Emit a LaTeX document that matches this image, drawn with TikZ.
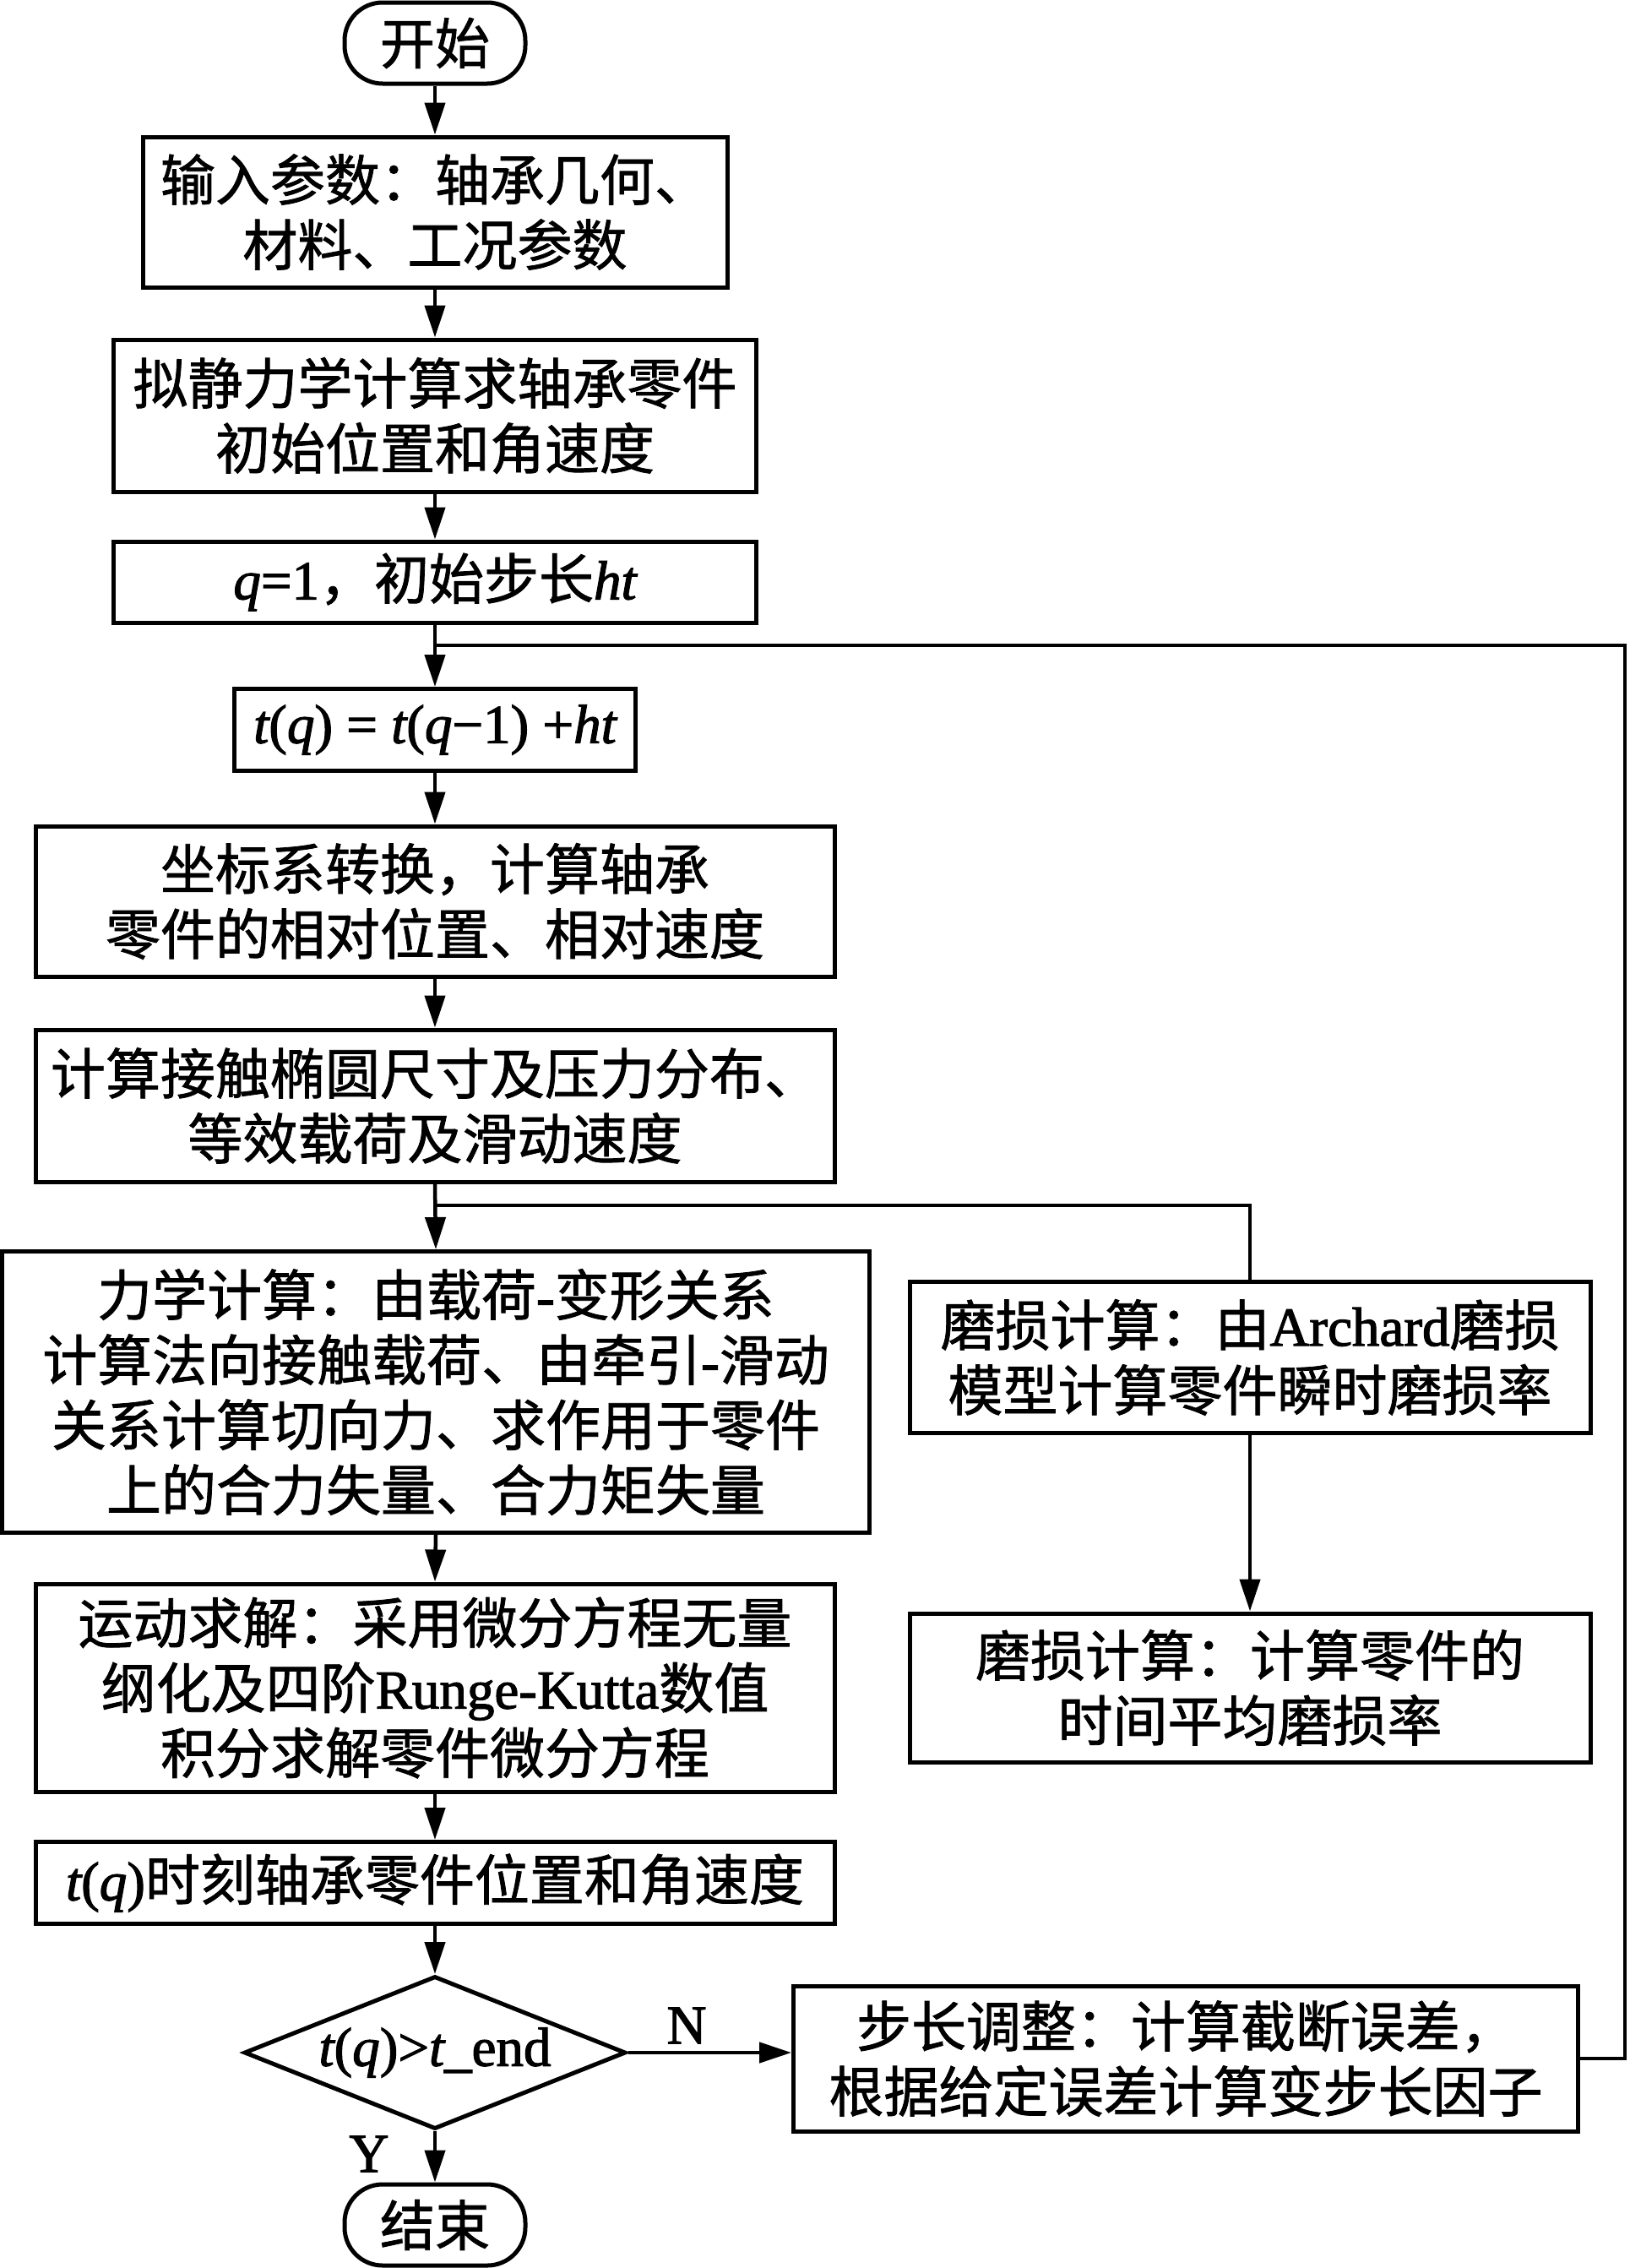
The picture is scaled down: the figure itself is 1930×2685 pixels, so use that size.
\documentclass[tikz,border=0pt]{standalone}
\usepackage{fontspec}
\newfontfamily\cjk[FakeBold=1.2]{Noto Sans CJK SC}
\newfontfamily\lat[FakeBold=1.8]{Liberation Serif}
\usetikzlibrary{arrows.meta,shapes.geometric}
\newcommand\li[1]{{\lat\itshape #1}}
\newcommand\lu[1]{{\lat #1}}
\begin{document}
\begin{tikzpicture}[x=1pt,y=-1pt,
  base/.style={draw, line width=5pt, inner sep=0pt, align=center, font=\cjk\fontsize{65}{77}\selectfont},
  box/.style={base, rectangle},
  term/.style={base, rectangle, rounded corners=45pt},
  dec/.style={base, diamond, aspect=2.5},
  arr/.style={line width=4.5pt, -{Triangle[length=38pt,width=24pt]}},
  ln/.style={line width=4.5pt},
  lbl/.style={font=\lat\fontsize{65}{77}\selectfont, inner sep=0pt}]
\useasboundingbox[fill=white] (0,0) rectangle (1930,2685);
\node[term, minimum width=214pt, minimum height=96pt] (start) at (515,51) {开始};
\node[box, minimum width=692pt, minimum height=178pt] (input) at (515,251) {输入参数：轴承几何、\\材料、工况参数};
\node[box, minimum width=761pt, minimum height=180pt] (quasi) at (515,492) {拟静力学计算求轴承零件\\初始位置和角速度};
\node[box, minimum width=761pt, minimum height=96pt] (q1) at (515,689) {\li{q}\lu{=1}，初始步长\li{ht}};
\node[box, minimum width=475pt, minimum height=97pt] (tq) at (515,864) {\li{t}\lu{(}\li{q}\lu{) = }\li{t}\lu{(}\li{q}\lu{−1) +}\li{ht}};
\node[box, minimum width=946pt, minimum height=178pt] (coord) at (515,1067) {坐标系转换，计算轴承\\零件的相对位置、相对速度};
\node[box, minimum width=946pt, minimum height=180pt] (contact) at (515,1309) {计算接触椭圆尺寸及压力分布、\\等效载荷及滑动速度};
\node[box, minimum width=1027pt, minimum height=333pt] (force) at (516,1648) {力学计算：由载荷\lu{-}变形关系\\计算法向接触载荷、由牵引\lu{-}滑动\\关系计算切向力、求作用于零件\\上的合力失量、合力矩失量};
\node[box, minimum width=946pt, minimum height=246pt] (motion) at (515,1998) {运动求解：采用微分方程无量\\纲化及四阶\lu{Runge-Kutta}数值\\积分求解零件微分方程};
\node[box, minimum width=946pt, minimum height=97pt] (tqm) at (515,2229) {\li{t}\lu{(}\li{q}\lu{)}时刻轴承零件位置和角速度};
\node[dec, minimum width=452pt, minimum height=181pt] (dec) at (515,2430) {\li{t}\lu{(}\li{q}\lu{)>}\li{t}\lu{\_end}};
\node[term, minimum width=214pt, minimum height=96pt] (end) at (515,2634) {结束};
\node[box, minimum width=806pt, minimum height=179pt] (wear1) at (1480,1607) {磨损计算：由\lu{Archard}磨损\\模型计算零件瞬时磨损率};
\node[box, minimum width=806pt, minimum height=176pt] (wear2) at (1480,1998) {磨损计算：计算零件的\\时间平均磨损率};
\node[box, minimum width=929pt, minimum height=172pt] (step) at (1404,2437) {步长调整：计算截断误差，\\根据给定误差计算变步长因子};
\node[lbl] (N) at (813,2398) {N};
\node[lbl] (Y) at (437,2550) {Y};
\coordinate (loopR) at (1924,764);
\coordinate (loopJ) at (515,764);
\coordinate (br) at (515,1427);
\draw[arr] (start.south) -- (input.north);
\draw[arr] (input.south) -- (quasi.north);
\draw[arr] (quasi.south) -- (q1.north);
\draw[arr] (q1.south) -- (tq.north);
\draw[arr] (tq.south) -- (coord.north);
\draw[arr] (coord.south) -- (contact.north);
\draw[arr] (contact.south) -- (force.north);
\draw[ln] (br) -| (wear1.north);
\draw[arr] (wear1.south) -- (wear2.north);
\draw[arr] (force.south) -- (motion.north);
\draw[arr] (motion.south) -- (tqm.north);
\draw[arr] (tqm.south) -- (dec.north);
\draw[arr] (dec.east) -- (dec.east -| step.west);
\draw[arr] (dec.south) -- (end.north);
\draw[ln] (step.east) -| (loopR) -- (loopJ);
\end{tikzpicture}
\end{document}
